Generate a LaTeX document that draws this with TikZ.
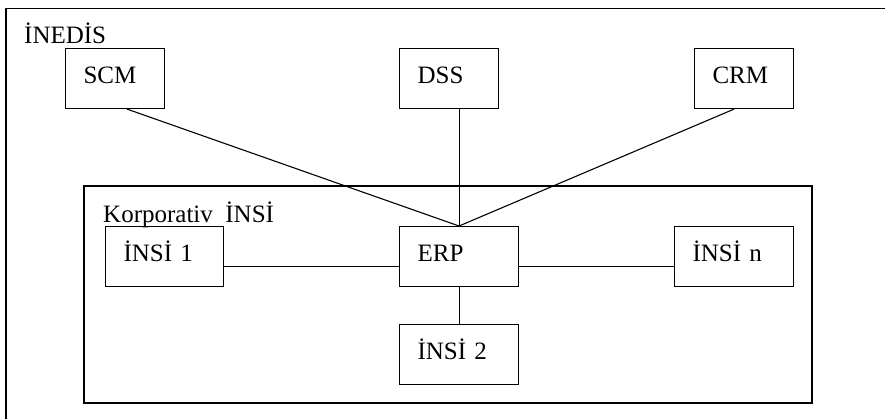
\documentclass[tikz,border=0pt]{standalone}
\usepackage{fontspec}
\setmainfont{Liberation Serif}
\usepackage{tikz}
\usetikzlibrary{positioning}

\begin{document}
\begin{tikzpicture}[
  x=1pt,y=-1pt,
  every node/.style={font=\fontsize{25}{30}\selectfont},
  boxes/.style={draw,line width=1.1pt,anchor=north west,text width=#1,align=left,inner xsep=18pt,inner ysep=4pt,text height=31pt,text depth=21pt},
  frames/.style={draw,line width=1.2pt},
  notes/.style={anchor=base west,inner sep=0pt},
  links/.style={line width=1.1pt},
]
\useasboundingbox (0,0) rectangle (885,418);
\clip (0,0) rectangle (885,418);

% outer and inner frames
\draw[frames] (6,8.5) rectangle (900,430);
\node (inedis) [notes] at (24,43) {İNEDİS};
\draw[frames] (84,186) rectangle (812,403);
\node (korp) [notes] at (103,222) {Korporativ\hspace{0.5em}İNSİ};

% top row
\node (scm) [boxes=63pt] at (65,48) {SCM};
\node (dss) [boxes=63pt] at (399,48) {DSS};
\node (crm) [boxes=63pt] at (694,48) {CRM};

% corporate systems
\node (insi1) [boxes=82pt] at (105,226) {İNSİ 1};
\node (erp) [boxes=83pt] at (399,226) {ERP};
\node (insin) [boxes=83pt] at (674,226) {İNSİ n};
\node (insi2) [boxes=83pt] at (399,324) {İNSİ 2};

\draw[links] ([xshift=12pt]scm.south) to (erp.north);
\draw[links] ([xshift=10pt]dss.south) to (erp.north);
\draw[links] ([xshift=-10pt]crm.south) to (erp.north);
\draw[links] ([yshift=-10pt]insi1.east) to ([yshift=-10pt]erp.west);
\draw[links] ([yshift=-10pt]erp.east) to ([yshift=-10pt]insin.west);
\draw[links] (erp.south) to (insi2.north);
\end{tikzpicture}
\end{document}
